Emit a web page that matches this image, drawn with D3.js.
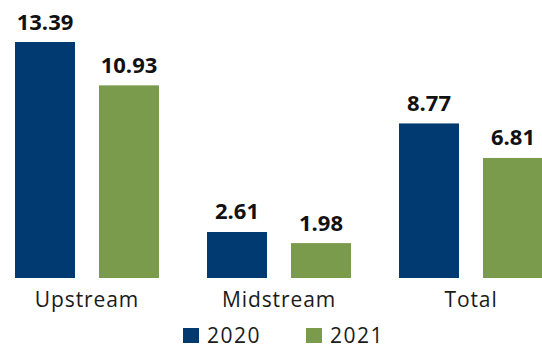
<!DOCTYPE html>
<html>
<head>
<meta charset="utf-8">
<script src="https://cdn.jsdelivr.net/npm/d3@7/dist/d3.min.js"></script>
<style>
  html, body { margin: 0; padding: 0; background: #fff; }
  svg { display: block; }
</style>
</head>
<body>
<script>
// Chart data
const categories = ["Upstream", "Midstream", "Total"];
const seriesNames = ["2020", "2021"];
const values2020 = [13.39, 2.61, 8.77];
const values2021 = [10.93, 1.98, 6.81];
const colors = ["#003A70", "#7A9A4C"];

const width = 542, height = 348;
const baseline = 278;

const svg = d3.select("body").append("svg")
  .attr("width", width)
  .attr("height", height);

const x0 = d3.scaleBand()
  .domain(categories)
  .range([-9, 567])
  .paddingInner(0.25)
  .paddingOuter(0.125);

// 60px bars with a 24px gap inside each group
const x1 = d3.scaleBand()
  .domain(seriesNames)
  .range([0, x0.bandwidth()])
  .paddingInner(24 / 84);

const y = d3.scaleLinear()
  .domain([0, 13.39])
  .range([baseline, 42]);

const rows = categories.map((c, i) => ({
  category: c,
  items: [
    { series: seriesNames[0], value: values2020[i], color: colors[0] },
    { series: seriesNames[1], value: values2021[i], color: colors[1] }
  ]
}));

const groups = svg.selectAll("g.group")
  .data(rows)
  .join("g")
  .attr("class", "group")
  .attr("transform", d => `translate(${x0(d.category)},0)`);

groups.selectAll("rect")
  .data(d => d.items)
  .join("rect")
  .attr("x", d => x1(d.series))
  .attr("y", d => y(d.value))
  .attr("width", x1.bandwidth())
  .attr("height", d => baseline - y(d.value))
  .attr("fill", d => d.color);

groups.selectAll("text.value")
  .data(d => d.items)
  .join("text")
  .attr("class", "value")
  .attr("x", d => x1(d.series) + x1.bandwidth() / 2)
  .attr("y", d => y(d.value) - 12.5)
  .attr("text-anchor", "middle")
  .style("font-family", "'Open Sans', sans-serif")
  .style("font-weight", 700)
  .style("font-size", "22px")
  .style("fill", "#111")
  .text(d => d.value.toFixed(2));

// Category axis labels
const xAxis = d3.axisBottom(x0).tickSize(0).tickPadding(0);
const axisG = svg.append("g")
  .attr("transform", `translate(0,${baseline})`)
  .call(xAxis);
axisG.select(".domain").remove();
axisG.selectAll("text")
  .attr("dy", null)
  .attr("y", 29)
  .style("font-family", "'Open Sans', sans-serif")
  .style("font-size", "21px")
  .style("letter-spacing", "0.9px")
  .style("fill", "#1a1a1a");

// Legend
const legendX = [183, 306];
const legend = svg.selectAll("g.legend")
  .data(seriesNames)
  .join("g")
  .attr("class", "legend")
  .attr("transform", (d, i) => `translate(${legendX[i]},328)`);

legend.append("rect")
  .attr("width", 16)
  .attr("height", 15)
  .attr("fill", (d, i) => colors[i]);

legend.append("text")
  .attr("x", 24)
  .attr("y", 15)
  .style("font-family", "'Open Sans', sans-serif")
  .style("font-size", "21px")
  .style("letter-spacing", "1.5px")
  .style("fill", "#1a1a1a")
  .text(d => d);
</script>
</body>
</html>
